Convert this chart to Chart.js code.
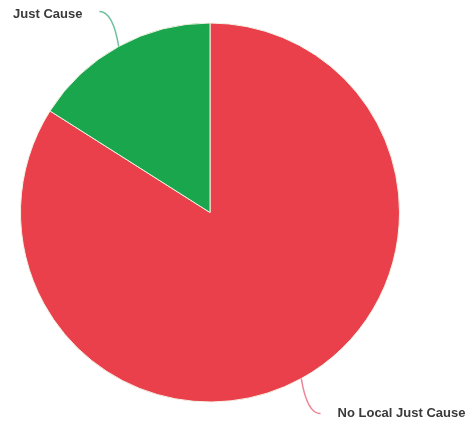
<!DOCTYPE html>
<html>
<head>
<meta charset="utf-8">
<script src="https://cdn.jsdelivr.net/npm/chart.js@4"></script>
<style>
  html, body { margin: 0; padding: 0; background: #ffffff; }
  #wrap { width: 466px; height: 421px; }
</style>
</head>
<body>
<div id="wrap"><canvas id="c" width="466" height="421"></canvas></div>
<script>
const categories = ['No Local Just Cause', 'Just Cause'];
const values = [84, 16];
const sliceColors = ['#e9404b', '#1aa64c'];
const leaderColors = ['rgba(236,110,128,0.85)', 'rgba(60,170,120,0.75)'];

const leaderLabels = {
  id: 'leaderLabels',
  afterDraw(chart) {
    const ctx = chart.ctx;
    const meta = chart.getDatasetMeta(0);
    ctx.save();
    meta.data.forEach((arc, i) => {
      const p = arc.getProps(['x', 'y', 'startAngle', 'endAngle', 'outerRadius'], true);
      const mid = (p.startAngle + p.endAngle) / 2;
      const cx = Math.cos(mid), cy = Math.sin(mid);
      const x0 = p.x + cx * p.outerRadius, y0 = p.y + cy * p.outerRadius;
      const x2 = p.x + cx * (p.outerRadius + 40), y2 = p.y + cy * (p.outerRadius + 40);
      const c1x = x0 + (x2 - x0) * 0.3, c1y = y2;
      ctx.beginPath();
      ctx.moveTo(x0, y0);
      ctx.quadraticCurveTo(c1x, c1y, x2, y2);
      ctx.strokeStyle = leaderColors[i];
      ctx.lineWidth = 1.5;
      ctx.stroke();
      ctx.font = 'bold 13px "Liberation Sans", Arial, sans-serif';
      ctx.fillStyle = '#3a3a3a';
      ctx.textBaseline = 'middle';
      if (cx < 0) {
        ctx.textAlign = 'right';
        ctx.fillText(categories[i], x2 - 17, y2 + 3);
      } else {
        ctx.textAlign = 'left';
        ctx.fillText(categories[i], x2 + 17, y2);
      }
    });
    ctx.restore();
  }
};

new Chart(document.getElementById('c'), {
  type: 'pie',
  data: {
    labels: categories,
    datasets: [{
      data: values,
      backgroundColor: sliceColors,
      borderColor: '#f3f1e4',
      borderWidth: 1
    }]
  },
  options: {
    responsive: false,
    animation: false,
    layout: { padding: { left: 20, top: 22, right: 66, bottom: 18 } },
    plugins: {
      legend: { display: false },
      tooltip: { enabled: false }
    }
  },
  plugins: [leaderLabels]
});
</script>
</body>
</html>
